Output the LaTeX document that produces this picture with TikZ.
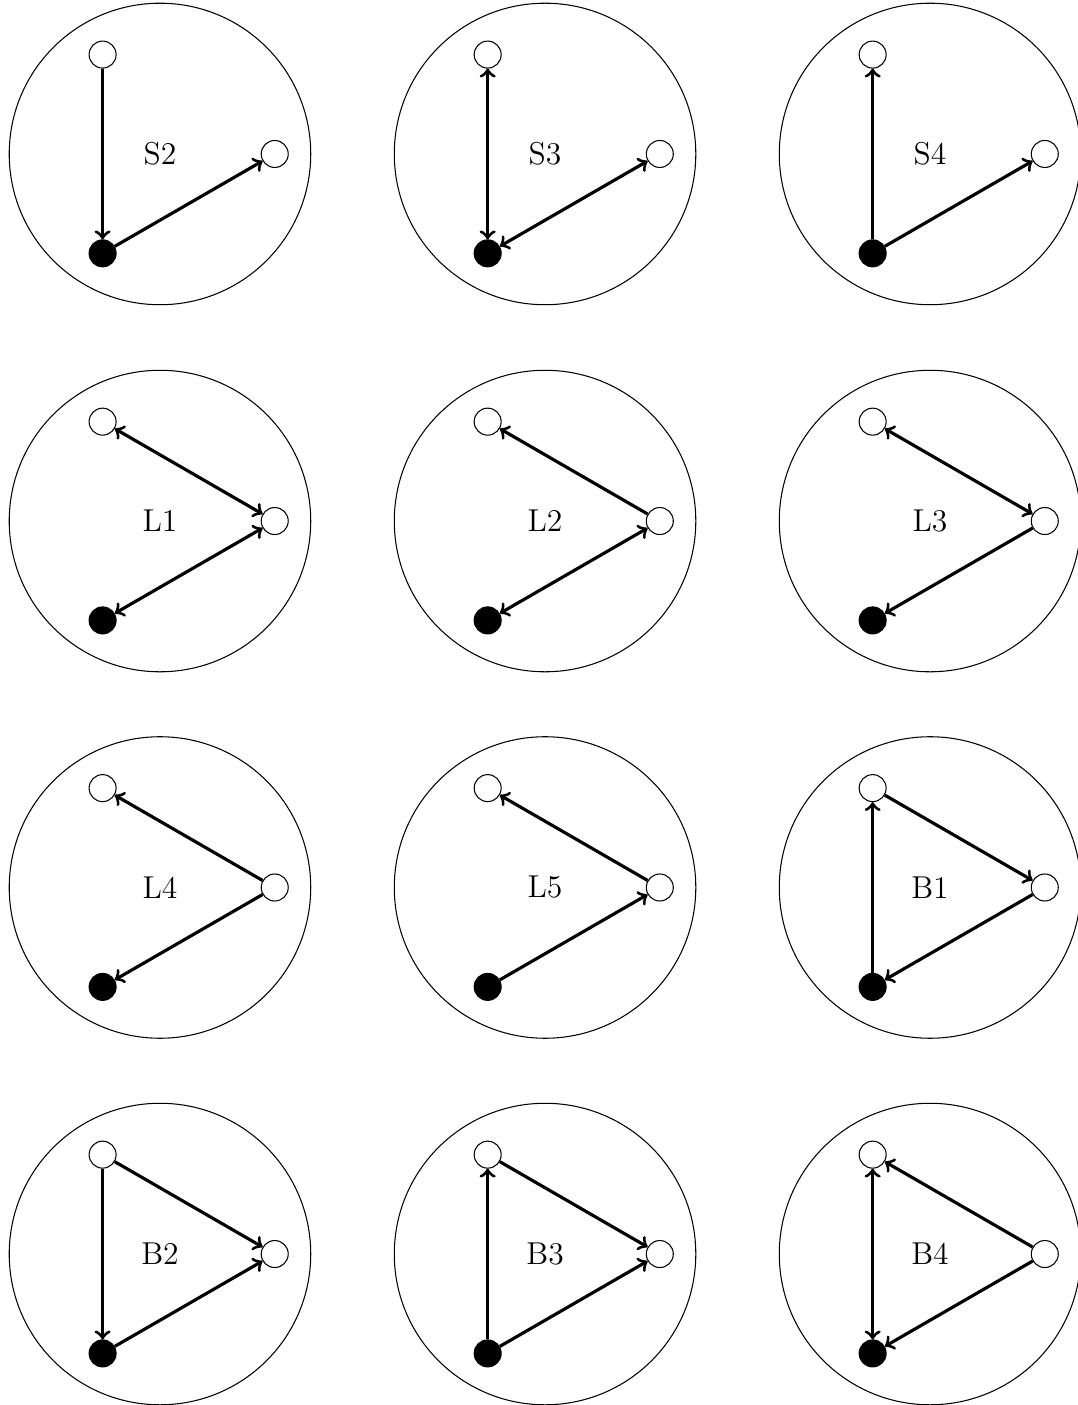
\documentclass[tikz,border=0pt]{standalone}
\usepackage{amsmath}
\usepackage{tikz}
\usetikzlibrary{arrows,calc}

\begin{document}
\begin{tikzpicture}[
		vtx/.style={circle, draw, fill=white, minimum size=0.36cm, inner sep=0pt},
		src/.style={vtx, fill=black},
		edge/.style={very thick}]
			\newcommand{\Motif}[3]{
				\draw (#2,#3) circle (2.01);
				\node (#1) [font=\large] at (#2,#3) {#1};
				\node (#1t) [vtx] at ($(#2,#3)+(120:1.53)$) {};
				\node (#1r) [vtx] at ($(#2,#3)+(0:1.53)$) {};
				\node (#1b) [src] at ($(#2,#3)+(240:1.53)$) {};
			}

			\useasboundingbox (0,0) rectangle (14.36,-18.733);

			% first row
			\Motif{S2}{2.133}{-2.053}
			\Motif{S3}{7.267}{-2.053}
			\Motif{S4}{12.4}{-2.053}
			\draw [edge,->] (S2t) -- (S2b);
			\draw [edge,->] (S2b) -- (S2r);
			\draw [edge,<->] (S3t) -- (S3b);
			\draw [edge,<->] (S3b) -- (S3r);
			\draw [edge,->] (S4b) -- (S4t);
			\draw [edge,->] (S4b) -- (S4r);

			% second row
			\Motif{L1}{2.133}{-6.947}
			\Motif{L2}{7.267}{-6.947}
			\Motif{L3}{12.4}{-6.947}
			\draw [edge,<->] (L1t) -- (L1r);
			\draw [edge,<->] (L1b) -- (L1r);
			\draw [edge,->] (L2r) -- (L2t);
			\draw [edge,<->] (L2b) -- (L2r);
			\draw [edge,<->] (L3t) -- (L3r);
			\draw [edge,->] (L3r) -- (L3b);

			% third row
			\Motif{L4}{2.133}{-11.833}
			\Motif{L5}{7.267}{-11.833}
			\Motif{B1}{12.4}{-11.833}
			\draw [edge,->] (L4r) -- (L4t);
			\draw [edge,->] (L4r) -- (L4b);
			\draw [edge,->] (L5r) -- (L5t);
			\draw [edge,->] (L5b) -- (L5r);
			\draw [edge,->] (B1b) -- (B1t);
			\draw [edge,->] (B1t) -- (B1r);
			\draw [edge,->] (B1r) -- (B1b);

			% fourth row
			\Motif{B2}{2.133}{-16.72}
			\Motif{B3}{7.267}{-16.72}
			\Motif{B4}{12.4}{-16.72}
			\draw [edge,->] (B2t) -- (B2b);
			\draw [edge,->] (B2t) -- (B2r);
			\draw [edge,->] (B2b) -- (B2r);
			\draw [edge,->] (B3b) -- (B3t);
			\draw [edge,->] (B3t) -- (B3r);
			\draw [edge,->] (B3b) -- (B3r);
			\draw [edge,<->] (B4t) -- (B4b);
			\draw [edge,->] (B4r) -- (B4t);
			\draw [edge,->] (B4r) -- (B4b);
		\end{tikzpicture}
\end{document}
